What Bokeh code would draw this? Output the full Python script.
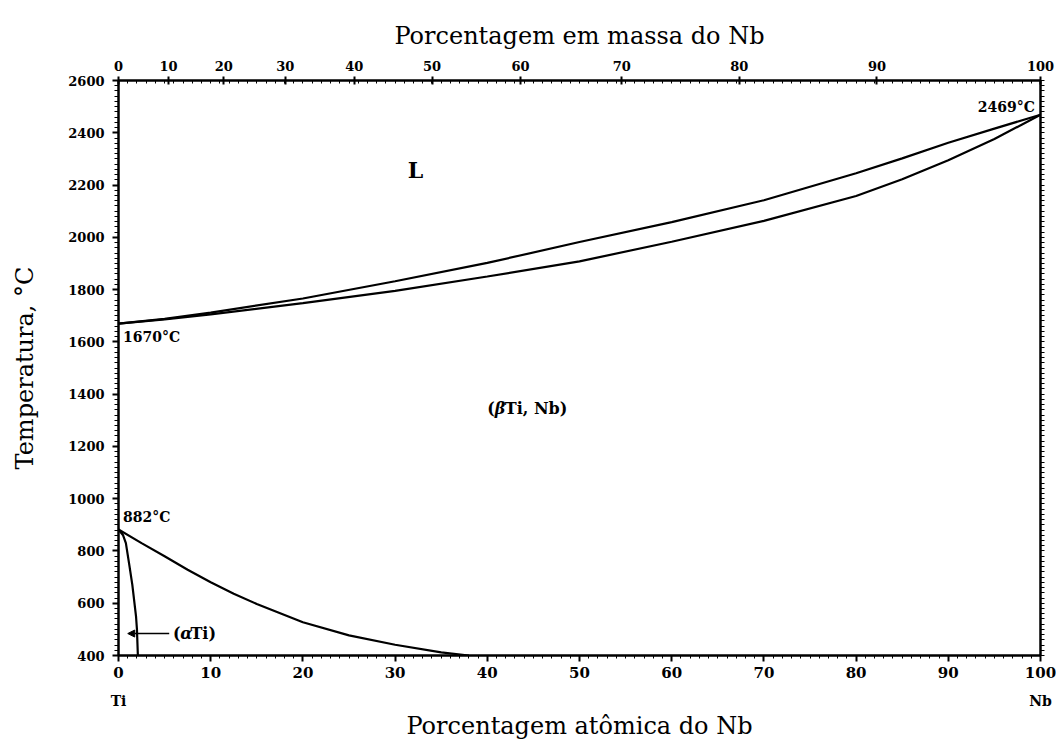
from bokeh.plotting import figure
from bokeh.models import (LinearAxis, FixedTicker, CustomJSTickFormatter, Label,
                          Arrow, NormalHead, Range1d)
from bokeh.embed import file_html
from bokeh.resources import INLINE

# ---------------- data ----------------
M_TI = 47.867
M_NB = 92.906

liq_x = [0, 5, 10, 20, 30, 40, 50, 60, 70, 80, 85, 90, 95, 100]
liq_T = [1670, 1688, 1712, 1766, 1832, 1902, 1982, 2058, 2142, 2245, 2302, 2362, 2416, 2469]

sol_x = [0, 5, 10, 20, 30, 40, 50, 60, 70, 80, 85, 90, 95, 100]
sol_T = [1670, 1686, 1705, 1748, 1795, 1850, 1908, 1983, 2063, 2158, 2222, 2295, 2376, 2469]

beta_x = [0, 2.5, 5, 7.5, 10, 12.5, 15, 20, 25, 30, 35, 38]
beta_T = [882, 830, 780, 728, 680, 636, 597, 527, 477, 441, 412, 400]

alpha_x = [0, 0.5, 0.8, 1.2, 1.5, 1.7, 1.9, 2.0, 2.1]
alpha_T = [882, 860, 830, 740, 670, 610, 550, 500, 400]

at_ticks = [0, 10, 20, 30, 40, 50, 60, 70, 80, 90, 100]
mass_ticks = [0, 10, 20, 30, 40, 50, 60, 70, 80, 90, 100]
temp_ticks = [400, 600, 800, 1000, 1200, 1400, 1600, 1800, 2000, 2200, 2400, 2600]
element_ticks = [0, 100]
element_names = ["Ti", "Nb"]


def wt_to_at(w):
    a = w / M_NB
    b = (100 - w) / M_TI
    return 100.0 * a / (a + b)


mass_pos = [wt_to_at(w) for w in mass_ticks]

SERIF = "DejaVu Serif"

p = figure(width=1056, height=742, x_range=Range1d(0, 100), y_range=Range1d(400, 2600),
           output_backend="svg", toolbar_location=None,
           min_border_left=118, min_border_right=16, min_border_top=80, min_border_bottom=87,
           x_axis_location=None, y_axis_location=None)
p.xgrid.visible = False
p.ygrid.visible = False
p.outline_line_color = "black"
p.outline_line_width = 2
p.background_fill_color = "white"
p.border_fill_color = "white"


def style_axis(ax, label_size, title_size="25px"):
    ax.axis_line_width = 2
    ax.axis_line_color = "black"
    ax.major_tick_line_color = "black"
    ax.minor_tick_line_color = "black"
    ax.major_tick_line_width = 2
    ax.major_label_text_font = SERIF
    ax.major_label_text_font_style = "bold"
    ax.major_label_text_font_size = label_size
    ax.major_label_text_color = "black"
    ax.axis_label_text_font = SERIF
    ax.axis_label_text_font_style = "normal"
    ax.axis_label_text_font_size = title_size
    ax.axis_label_text_color = "black"


# bottom axis (numbers)
xb = LinearAxis(ticker=FixedTicker(ticks=at_ticks, minor_ticks=list(range(0, 101))))
style_axis(xb, "15px")
xb.major_tick_out = 6
xb.major_tick_in = 0
xb.minor_tick_out = 3
xb.minor_tick_in = 0
xb.major_label_standoff = 5
p.add_layout(xb, "below")

# bottom axis (element names) + title
xe = LinearAxis(ticker=FixedTicker(ticks=element_ticks, minor_ticks=[]),
                axis_label="Porcentagem atômica do Nb",
                formatter=CustomJSTickFormatter(args=dict(names=element_names),
                                                code="return tick < 50 ? names[0] : names[1];"))
style_axis(xe, "14px", "24px")
xe.axis_line_color = None
xe.major_tick_line_color = None
xe.major_tick_out = 0
xe.major_tick_in = 0
xe.minor_tick_out = 0
xe.major_label_standoff = 12
xe.axis_label_standoff = 0
p.add_layout(xe, "below")

# top axis (mass %)
xt = LinearAxis(ticker=FixedTicker(ticks=mass_pos, minor_ticks=list(range(0, 101))),
                axis_label="Porcentagem em massa do Nb",
                formatter=CustomJSTickFormatter(args=dict(mti=M_TI, mnb=M_NB), code="""
const a = tick;
const w = 100*a*mnb/(a*mnb + (100-a)*mti);
return Math.round(w).toString();
"""))
style_axis(xt, "13px", "24px")
xt.major_tick_out = 4
xt.major_tick_in = 4
xt.minor_tick_out = 0
xt.minor_tick_in = 3
xt.major_label_standoff = 6
xt.axis_label_standoff = 8
p.add_layout(xt, "above")

# left axis
yl = LinearAxis(ticker=FixedTicker(ticks=temp_ticks, minor_ticks=list(range(400, 2601, 20))),
                axis_label="Temperatura, °C")
style_axis(yl, "13px", "24px")
yl.major_tick_out = 6
yl.major_tick_in = 0
yl.minor_tick_out = 4
yl.minor_tick_in = 0
yl.major_label_standoff = 8
yl.axis_label_standoff = 26
p.add_layout(yl, "left")

# right axis (ticks only, no labels)
yr = LinearAxis(ticker=FixedTicker(ticks=[], minor_ticks=list(range(400, 2601, 20))))
style_axis(yr, "13px")
yr.minor_tick_out = 4
yr.minor_tick_in = 0
p.add_layout(yr, "right")

# curves
for xs, ts in [(liq_x, liq_T), (sol_x, sol_T), (beta_x, beta_T), (alpha_x, alpha_T)]:
    p.line(xs, ts, line_color="black", line_width=2.2)


# annotations
def lab(x, y, text, size="14px", align="left", baseline="middle", style="bold"):
    l = Label(x=x, y=y, text=text, text_font=SERIF, text_font_style=style,
              text_font_size=size, text_align=align, text_baseline=baseline,
              text_color="black")
    p.add_layout(l)
    return l


lab(0.5, 1617, "1670°C")
lab(0.5, 930, "882°C")
lab(99.4, 2497, "2469°C", align="right")
lab(32.2, 2256, "L", size="22px", align="center")

# (βTi, Nb)
lab(40.0, 1345, "(", size="16px")
lab(40.8, 1345, "β", size="16px", style="bold italic")
lab(41.9, 1345, "Ti, Nb)", size="16px")

# (αTi)
lab(5.9, 484, "(", size="16px")
lab(6.7, 484, "α", size="16px", style="bold italic")
lab(7.8, 484, "Ti)", size="16px")

p.add_layout(Arrow(x_start=5.5, y_start=484, x_end=1.0, y_end=484,
                   line_color="black", line_width=1.5,
                   end=NormalHead(size=7, fill_color="black", line_color="black")))

open("out.html", "w").write(file_html(p, INLINE))
